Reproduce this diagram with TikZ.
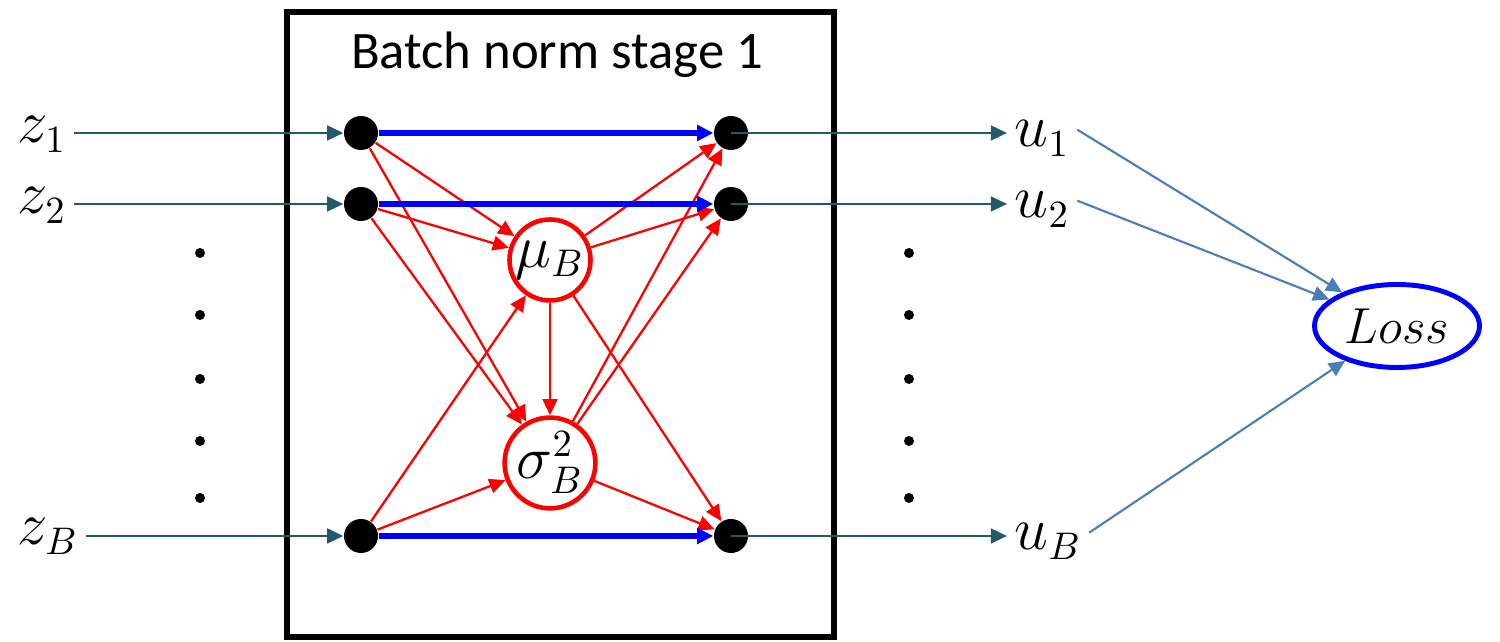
\documentclass[tikz,border=0pt]{standalone}
\usepackage{fontspec}
\newfontfamily\titlefont{Carlito}
\usepackage{tikz}
\usetikzlibrary{shapes.geometric,arrows.meta}
\definecolor{linkteal}{RGB}{35,90,105}
\definecolor{lossblue}{RGB}{74,126,187}
\tikzset{
  dotnode/.style={circle, fill=black, minimum size=0.34cm, inner sep=0pt},
  statnode/.style={circle, draw=red, line width=1.3pt, fill=white,
                   minimum size=0.81cm, inner sep=0pt, font=\fontsize{16}{19}\selectfont},
  varlabel/.style={inner sep=2pt, font=\fontsize{16}{19}\selectfont},
  lossnode/.style={ellipse, draw=blue, line width=1.4pt, minimum width=1.65cm,
                   minimum height=0.83cm, inner sep=0pt, font=\fontsize{15}{18}\selectfont},
  inarrow/.style={-{Triangle[length=4.6pt,width=4.2pt]}, line width=0.75pt, linkteal},
  normarrow/.style={-{Triangle[length=4.6pt,width=4.4pt]}, line width=1.5pt, blue},
  statarrow/.style={-{Triangle[length=4.6pt,width=4.2pt]}, line width=0.65pt, red},
  lossarrow/.style={-{Triangle[length=4.6pt,width=4.2pt]}, line width=0.6pt, lossblue},
}
\begin{document}
\begin{tikzpicture}
  \useasboundingbox (0,0) rectangle (15,6.42);
  % stage box
  \draw[line width=1.6pt] (2.87,0.05) rectangle (8.34,6.30);
  \node[font=\titlefont\fontsize{15}{18}\selectfont, anchor=base] (title) at (5.57,5.73) {Batch norm stage 1};
  % inputs and outputs
  \node[varlabel, anchor=base west] (z1) at (0.10,4.99) {$z_1$};
  \node[varlabel, anchor=base west] (z2) at (0.10,4.28) {$z_2$};
  \node[varlabel, anchor=base west] (zB) at (0.10,0.97) {$z_B$};
  \node[varlabel, anchor=base west] (u1) at (10.07,4.95) {$u_1$};
  \node[varlabel, anchor=base west] (u2) at (10.07,4.24) {$u_2$};
  \node[varlabel, anchor=base west] (uB) at (10.07,0.92) {$u_B$};
  \foreach \y in {3.89,3.27,2.63,2.01,1.44} {
    \fill (2.00,\y) circle (0.05);
    \fill (9.09,\y) circle (0.05);
  }
  % batch nodes
  \node[dotnode] (L1) at (3.61,5.09) {};
  \node[dotnode] (L2) at (3.61,4.38) {};
  \node[dotnode] (LB) at (3.61,1.06) {};
  \node[dotnode] (R1) at (7.31,5.09) {};
  \node[dotnode] (R2) at (7.31,4.38) {};
  \node[dotnode] (RB) at (7.31,1.06) {};
  \node[statnode] (mu) at (5.50,3.82) {$\mu_B$};
  \node[statnode] (sigma) at (5.50,1.79) {$\sigma^{2}_{B}$};
  \node[lossnode] (loss) at (13.97,3.16) {$Loss$};
  % statistics
  \foreach \n in {L1,L2,LB} {
    \draw[statarrow] (\n) -- (mu);
    \draw[statarrow] (\n) -- (sigma);
  }
  \draw[statarrow] (mu) -- (sigma);
  \foreach \n in {R1,R2,RB} {
    \draw[statarrow] (mu) -- (\n);
    \draw[statarrow] (sigma) -- (\n);
  }
  % normalise
  \draw[normarrow] (L1) -- (R1);
  \draw[normarrow] (L2) -- (R2);
  \draw[normarrow] (LB) -- (RB);
  % in / out
  \draw[inarrow] (z1.east |- L1) -- (L1);
  \draw[inarrow] (z2.east |- L2) -- (L2);
  \draw[inarrow] (zB.east |- LB) -- (LB);
  \draw[inarrow] (R1.center) -- (u1.west |- R1);
  \draw[inarrow] (R2.center) -- (u2.west |- R2);
  \draw[inarrow] (RB.center) -- (uB.west |- RB);
  % loss
  \draw[lossarrow] ([yshift=2.5pt]u1.east) -- (loss);
  \draw[lossarrow] ([yshift=2.5pt]u2.east) -- (loss);
  \draw[lossarrow] ([yshift=2.5pt]uB.east) -- (loss);
\end{tikzpicture}
\end{document}
